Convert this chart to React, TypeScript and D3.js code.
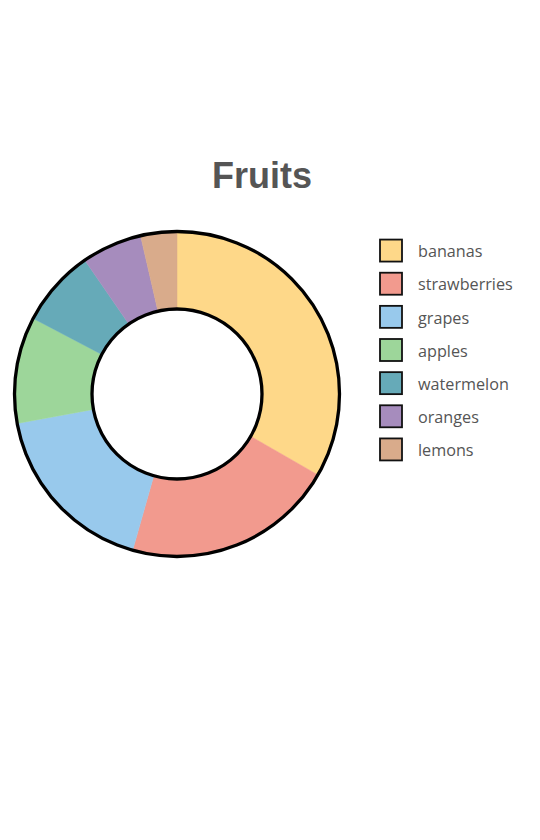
import React, { useRef, useEffect } from 'react';
import * as d3 from 'd3';

// fruit categories and their shares
const fruits = ['bananas', 'strawberries', 'grapes', 'apples', 'watermelon', 'oranges', 'lemons'];
const shares = [33.3, 21.1, 17.7, 10.6, 7.7, 6.0, 3.6];
const fruitColors = ['#fed889', '#f29a8e', '#98c9ec', '#9dd69a', '#66aab8', '#a68cbd', '#d9ab8b'];

export default function App() {
  const svgRef = useRef<SVGSVGElement>(null);

  const width = 540;
  const height = 840;
  const cx = 177;
  const cy = 394;
  const outerRadius = 162.5;
  const innerRadius = 85;

  useEffect(() => {
    const svg = d3.select(svgRef.current);
    svg.selectAll('*').remove();

    const data = fruits.map((name, i) => ({ name, value: shares[i] }));
    const color = d3.scaleOrdinal<string, string>().domain(fruits).range(fruitColors);

    // title
    svg.append('text')
      .attr('x', 262)
      .attr('y', 188)
      .attr('text-anchor', 'middle')
      .attr('font-family', '"Liberation Sans", Arial, sans-serif')
      .attr('font-weight', 'bold')
      .attr('font-size', 36)
      .attr('fill', '#555')
      .text('Fruits');

    const pie = d3.pie<{ name: string; value: number }>().sort(null).value(d => d.value);
    const arc = d3.arc<d3.PieArcDatum<{ name: string; value: number }>>()
      .innerRadius(innerRadius)
      .outerRadius(outerRadius);

    const g = svg.append('g').attr('transform', `translate(${cx},${cy})`);

    g.selectAll('path')
      .data(pie(data))
      .join('path')
      .attr('d', arc)
      .attr('fill', d => color(d.data.name))
      .attr('stroke', d => color(d.data.name))
      .attr('stroke-width', 0.5);

    // outline circles
    g.append('circle').attr('r', outerRadius).attr('fill', 'none').attr('stroke', '#000').attr('stroke-width', 3.3);
    g.append('circle').attr('r', innerRadius).attr('fill', 'none').attr('stroke', '#000').attr('stroke-width', 3.3);

    // legend
    const y = d3.scaleBand().domain(fruits).range([234, 466]).paddingInner(0);
    const legend = svg.append('g')
      .selectAll('g')
      .data(fruits)
      .join('g')
      .attr('transform', d => `translate(380,${(y(d) as number) + y.bandwidth() / 2})`);

    legend.append('rect')
      .attr('x', 0)
      .attr('y', -11)
      .attr('width', 22)
      .attr('height', 22)
      .attr('fill', d => color(d))
      .attr('stroke', '#111')
      .attr('stroke-width', 1.8);

    legend.append('text')
      .attr('x', 38)
      .attr('y', 1)
      .attr('dy', '0.35em')
      .attr('font-family', '"Open Sans", sans-serif')
      .attr('font-size', 16.2)
      .attr('fill', '#555')
      .text(d => d);
  }, []);

  return (
    <div>
      <svg
        ref={svgRef}
        width={width}
        height={height}
        style={{ position: 'absolute', left: 0, top: 0, background: '#fff' }}
      ></svg>
    </div>
  );
}
